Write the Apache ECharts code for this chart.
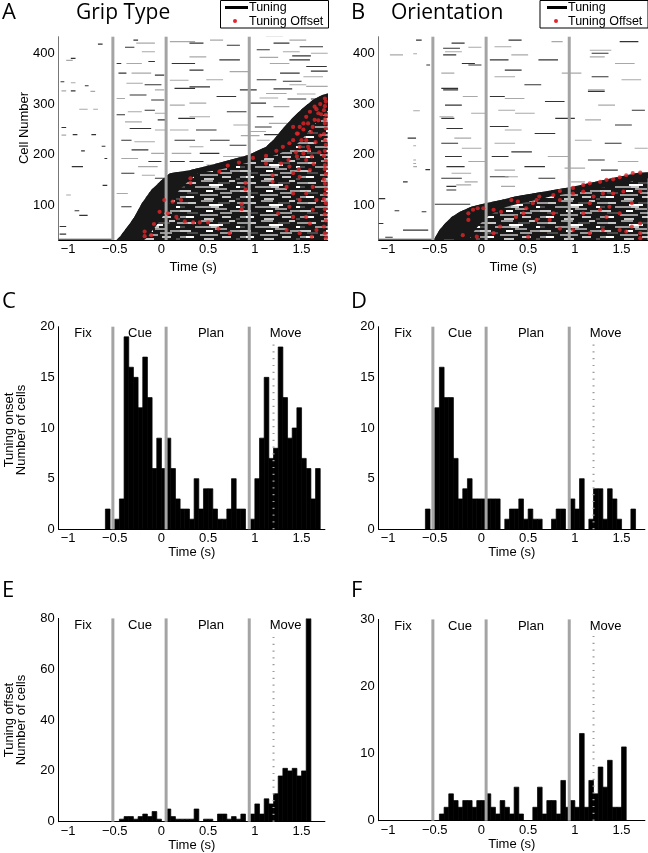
<!DOCTYPE html>
<html><head><meta charset="utf-8">
<script src="https://cdn.jsdelivr.net/npm/echarts@6/dist/echarts.min.js"></script>
<style>html,body{margin:0;padding:0;background:#fff}#c{width:648px;height:853px}</style>
</head><body><div id="c"></div>
<script>
// ================= DATA =================
const timeTicks = [-1, -0.5, 0, 0.5, 1, 1.5];
const cellTicks = [100, 200, 300, 400];
const onsetTicks = [0, 5, 10, 15, 20];
const offsetGripTicks = [0, 20, 40, 60, 80];
const offsetOriTicks = [0, 10, 20, 30];
const eventTimes = [-0.52, 0.05, 0.94];     // epoch boundaries (gray lines)
const moveOnsetTime = 1.2;                   // dotted line
const phaseNames = ['Fix', 'Cue', 'Plan', 'Move'];
const phaseLabelTimes = [-0.84, -0.23, 0.53, 1.33];

// histogram bins: 0.05 s, first bin starts at -0.6 s
const binWidth = 0.05;
const firstBin = -0.6;
const onsetGrip = [2,0,1,3,19,16,15,12,17,13,6,9,6,9,6,3,2,2,1,5,2,4,4,2,1,1,2,5,2,2,0,1,5,9,15,7,8,18,13,9,10,12,7,6,3,6];
const onsetOri  = [2,0,12,16,13,13,7,3,4,5,3,3,3,3,3,3,0,1,2,2,3,1,2,1,1,0,0,1,2,2,0,3,2,5,0,1,4,4,1,4,3,1,0,0,2];
const offsetGrip = [0,0,0,1,2,2,1,2,3,2,4,1,0,5,2,1,1,1,1,5,0,1,1,0,3,3,1,2,1,3,0,3,7,3,9,7,11,18,21,20,21,18,20,80];
const offsetOri  = [0,0,0,1,2,4,3,2,3,3,2,3,3,4,2,1,3,2,1,5,1,0,0,2,5,1,3,3,1,6,2,3,2,13,2,6,4,8,5,9,2,2,11];

// raster: tuning-onset boundary of sorted cells  [time (s), cell number]
const stairGrip = [[-0.48,33],[-0.44,40],[-0.40,50],[-0.35,62],[-0.29,78],[-0.21,105],[-0.11,131],[0.0,150],[0.09,164],[0.30,170],[0.59,183],[0.93,200],[1.12,216],[1.21,232],[1.30,252],[1.40,272],[1.50,290],[1.62,308],[1.72,318],[1.78,321]];
const stairOri = [[-0.51,33],[-0.45,52],[-0.39,65],[-0.32,78],[-0.23,88],[-0.11,98],[0.04,105],[0.21,111],[0.36,118],[0.61,126],[0.96,137],[1.32,151],[1.68,165],[1.78,166]];

// raster: tuning offsets (red dots)  [time, cell]
const offsetDotsGrip = [[0.71,179],[0.83,185],[0.98,194],[1.12,198],[1.23,208],[1.30,216],[1.37,223],[1.41,229],[1.46,242],[1.48,255],[1.52,262],[1.55,275],[1.59,285],[1.64,295],
[0.31,154],[0.31,145],[0.62,167],[0.90,145],[0.90,132],[0.03,111],[0.12,108],[0.21,111],[-0.02,88],[0.07,85],[0.16,78],[0.25,69],[0.34,67],[0.41,67],[0.50,67],[0.61,55],[0.73,46],[0.86,103],[0.86,93],[-0.08,64],[-0.18,49],[-0.18,40],[-0.11,42],
[1.12,183],[1.28,183],[1.37,177],[1.41,164],[1.48,157],[1.59,170],[1.19,160],[1.19,147],[1.34,137],[1.41,124],[1.55,124],[1.62,137],[1.66,111],[1.48,111],[1.37,98],[1.25,85],[1.41,78],[1.55,78],[1.62,92],[1.34,52],[1.48,46],[1.61,39],[1.66,52],[1.59,65],
[1.41,255],[1.45,242],[1.50,229],[1.57,216],[1.52,203],[1.45,197],[1.61,197],[1.55,229],[1.48,216],[1.62,255],[1.64,269],[1.68,282],
[1.70,300],[1.66,290],[1.71,280],[1.68,268],[1.57,262],[1.52,250],[1.60,245],[1.70,238],[1.65,225],[1.58,210],[1.69,205],[1.44,205],[1.36,190],[1.55,190],[1.63,182],[1.47,172],
[1.75,311],[1.76,305],[1.75,296],[1.74,288],[1.76,279],[1.75,270],[1.75,262],[1.76,252],[1.74,241],[1.75,229],[1.76,220],[1.75,208],[1.74,198],[1.76,189],[1.75,180],[1.75,172],[1.76,162],[1.74,152],[1.75,143],[1.76,132],[1.75,123],[1.74,113],[1.76,105],[1.75,93],[1.75,83],[1.76,71],[1.74,59],[1.75,46],[1.76,36]];
const offsetDotsOri = [[0.84,129],[0.98,135],[1.09,141],[1.16,144],[1.27,147],[1.34,151],[1.41,152],[1.48,156],[1.55,160],[1.62,164],[1.70,165],
[-0.20,42],[-0.14,72],[-0.14,85],[-0.09,92],[-0.04,95],[0.02,95],[0.13,92],[0.21,88],[0.32,111],[0.39,108],[0.45,85],[0.48,95],[0.55,105],[0.59,111],[0.62,118],[0.77,121],[0.84,111],[0.98,124],[1.09,128],[1.20,118],[1.30,124],[1.41,124],[1.52,128],[1.70,128],
[-0.05,39],[0.20,59],[0.37,78],[0.59,72],[0.73,72],[0.84,55],[0.98,52],[1.16,46],[1.30,52],[1.48,52],[1.61,59],[1.70,65],[1.70,46],[1.70,36],[0.13,46],[0.50,39],[0.77,85],[1.09,85],[1.27,92],[1.37,98],[1.48,85],[1.61,105],[1.16,105],[1.34,78],[1.55,49]];

// raster: sparse tuning periods above the onset boundary  [start, end, cell, level(1 strong / 2 weak)]
const dashesGrip = [
[-0.68,-0.63,418,1],[-1.02,-0.95,386,2],[-0.97,-0.92,390,1],[-1.08,-1.04,344,1],[-0.97,-0.92,342,2],[-0.82,-0.78,336,1],[-1.07,-1.02,326,2],[-0.97,-0.92,326,1],[-0.76,-0.71,325,2],[-0.88,-0.79,290,2],[-0.73,-0.68,290,2],[-1.07,-1.02,254,1],[-0.95,-0.90,240,1],[-1.07,-1.02,239,2],[-0.75,-0.70,240,1],[-0.86,-0.82,208,1],[-0.64,-0.60,217,1],[-0.61,-0.58,193,1],[-0.96,-0.84,177,1],[-0.63,-0.58,140,1],[-1.02,-0.97,121,2],[-0.93,-0.88,90,1],[-0.88,-0.79,81,1],[-1.09,-1.02,59,1],[-1.09,-1.02,44,1],[-1.1,-0.52,34,1],
[-0.30,-0.25,426,1],[-0.27,-0.07,420,2],[-0.39,-0.29,412,1],[-0.21,-0.07,403,2],[-0.48,-0.43,380,1],[-0.375,-0.21,380,2],[-0.14,-0.07,384,1],[-0.46,-0.375,361,1],[-0.32,-0.11,361,2],[-0.07,0.03,357,1],[-0.375,-0.20,341,2],[-0.18,0.0,338,1],[-0.07,0.03,328,2],[-0.34,-0.16,318,1],[-0.48,-0.39,311,2],[-0.11,0.03,308,1],[-0.36,-0.21,285,2],[-0.18,-0.07,288,1],[-0.07,0.05,282,2],[-0.48,-0.39,279,1],[-0.39,-0.21,265,2],[-0.04,0.05,269,1],[-0.34,-0.11,252,1],[-0.07,0.05,249,2],[-0.43,-0.32,229,1],[-0.29,-0.07,226,2],[-0.32,-0.14,210,1],[-0.11,0.03,203,2],[-0.43,-0.25,193,2],[-0.14,0.0,187,1],[-0.25,-0.04,177,2],[-0.43,-0.29,164,1],[-0.21,-0.07,160,2],[-0.07,0.03,154,1],[-0.48,-0.36,124,2],[-0.43,-0.32,98,1],
[0.09,0.36,423,2],[0.11,0.36,380,1],[0.09,0.29,347,2],[0.14,0.36,331,1],[0.09,0.25,298,2],[0.18,0.36,272,1],[0.09,0.29,249,2],[0.14,0.36,229,1],[0.11,0.32,203,2],[0.09,0.25,187,1],
[0.30,0.45,420,1],[0.52,0.66,426,2],[0.70,0.84,416,1],[1.12,1.30,433,2],[1.20,1.37,420,1],[1.37,1.55,426,2],[1.48,1.73,413,1],[1.30,1.48,403,2],[1.02,1.16,407,1],[0.30,0.48,393,2],[0.62,0.84,387,1],[1.37,1.59,387,1],[1.16,1.37,380,2],[1.55,1.77,374,1],[0.30,0.45,367,1],[0.73,0.95,364,2],[1.27,1.48,361,1],[1.52,1.73,354,2],[1.02,1.23,348,1],[0.48,0.66,348,2],[0.30,0.52,334,1],[1.37,1.55,338,2],[0.84,1.02,328,1],[1.12,1.34,321,2],[0.59,0.80,315,1],[0.30,0.48,302,2],[0.95,1.12,302,1],[1.20,1.37,295,2],[0.70,0.91,285,1],[0.30,0.52,275,2],[1.02,1.20,275,1],[0.77,0.95,259,2],[0.37,0.59,249,1],[0.95,1.12,246,2],[0.52,0.73,229,1],[0.30,0.45,216,2],[0.73,0.91,219,1],[1.02,1.16,229,2],[0.41,0.62,203,1],[0.66,0.87,197,2],[0.30,0.45,187,1],[0.48,0.66,180,2],
[1.40,1.60,395,1],[1.60,1.78,400,2],[1.05,1.25,392,2],[1.60,1.78,365,1],[1.30,1.50,345,1],[1.55,1.78,335,2],[1.20,1.40,330,1],[1.45,1.65,320,2],[1.60,1.78,310,1],[1.35,1.55,310,1],[1.05,1.25,312,2],[1.15,1.35,262,2],[1.0,1.18,255,1],[0.85,1.05,238,2],[1.1,1.25,240,1]];
const dashesOri = [
[-0.70,-0.64,426,1],[-0.98,-0.84,397,2],[-0.73,-0.69,399,2],[-0.59,-0.55,377,1],[-0.73,-0.66,287,2],[-0.79,-0.70,233,1],[-0.73,-0.70,218,2],[-0.73,-0.70,190,2],[-0.73,-0.70,183,2],[-0.73,-0.69,177,2],[-0.84,-0.79,147,1],[-0.60,-0.55,171,1],[-1.1,-1.03,114,1],[-0.93,-0.88,90,1],[-0.64,-0.59,88,1],[-1.1,-1.05,65,1],[-0.84,-0.57,52,1],[-1.03,-0.95,38,1],[-1.1,-0.52,34,1],
[-0.32,-0.18,420,1],[-0.41,-0.23,410,1],[-0.39,-0.21,403,2],[-0.41,-0.27,397,1],[-0.14,0.0,412,2],[-0.21,-0.07,380,1],[-0.43,-0.29,361,2],[-0.14,0.0,377,1],[-0.43,-0.25,331,1],[-0.41,-0.25,328,1],[-0.20,-0.04,315,2],[-0.39,-0.21,298,1],[-0.45,-0.30,275,2],[-0.43,-0.29,272,1],[-0.11,0.04,282,2],[-0.375,-0.20,252,1],[-0.29,-0.11,233,2],[-0.43,-0.25,223,1],[-0.21,0.0,213,2],[-0.39,-0.21,197,1],[-0.14,0.04,187,2],[-0.375,-0.18,177,1],[-0.32,-0.11,164,2],[-0.43,-0.21,154,1],[-0.18,-0.04,147,2],[-0.375,-0.27,138,1],[-0.375,-0.27,131,1],[-0.27,-0.11,141,2],[-0.50,-0.12,103,1],
[0.14,0.32,413,2],[0.09,0.29,387,1],[0.14,0.36,354,2],[0.09,0.25,315,1],[0.18,0.36,288,2],[0.09,0.29,256,1],[0.14,0.36,223,2],[0.11,0.29,197,1],[0.14,0.36,170,2],[0.09,0.29,157,1],[0.21,0.36,138,2],
[0.29,0.43,426,1],[0.75,0.87,423,2],[1.16,1.39,406,2],[1.18,1.36,400,1],[1.16,1.32,393,2],[1.48,1.68,423,1],[0.32,0.50,397,2],[0.61,0.82,387,1],[1.43,1.64,380,2],[0.25,0.43,367,1],[0.86,1.07,361,2],[1.18,1.36,354,1],[1.50,1.71,348,2],[0.46,0.64,338,1],[1.14,1.32,328,2],[1.14,1.32,325,1],[0.25,0.46,311,2],[0.68,0.89,305,1],[1.25,1.43,298,2],[1.61,1.75,288,1],[0.36,0.57,282,2],[0.79,1.0,272,1],[1.11,1.28,269,2],[1.43,1.61,259,1],[0.25,0.43,249,2],[0.57,0.79,242,1],[1.0,1.18,229,2],[1.32,1.50,223,1],[1.64,1.78,213,2],[0.32,0.54,206,1],[0.71,0.93,197,2],[1.14,1.32,190,1],[1.46,1.68,187,2],[0.46,0.68,177,1],[0.89,1.11,174,2],[1.28,1.46,170,1],[0.25,0.39,157,2],[0.61,0.79,154,1],[0.96,1.11,147,2]];

// ================= STYLE / RENDER =================
const FONT = '"Liberation Sans", Arial, Helvetica, sans-serif';
const TFONT = '"Open Sans", "Noto Sans", sans-serif';
const GRAY = '#a4a4a4';
const RED = '#e3262b';
const RASTER_X = [-1.1, 1.78], HIST_X = [-1.1, 1.75];
const CELL_Y = [32.5, 432.7];

// texture for the tuned (below-boundary) raster region
function makeTexture() {
  const rows = [
    'kkkkkkkkkkkkkkkkkkkkkggggggggggggkkkkkkkkkkkkkkkkllllllkkkkk',
    'ggggggggllllllllkkkkkkkkkkkkkkkkkkkkkkddddddddddddkkkkkkkggg',
    'kkkkkkkkkkkkkkkkkkkkkkkkkkkkkwwwwwwwwwwwwwwkkkkkkkkkkkkkkkkk',
    'dddddkkkkkkkkkkggggggggggggggggllllllllkkkkkkkkkkkkkkkkkwwww',
    'kkkkkkkkkkkkkkkkkkkkkkkkkkkkkkkkkkkggggggggggggkkkkkkkkkkkkk',
    'lllllllllllkkkkkkkkkkkkkkkwwwwwwwkkkkkkkkkkkkkkkkkgggggggggg',
    'kkkkkkkdddddddddddkkkkkkkkkkkkkkkkkkkkkkggggggggggggkkkkkkkk',
    'kkkkkkkkkkkkkkkkkkkkggggggggggggggggggkkkkkkkkkkkkkkkkkkkkkk',
    'ggggggwwwwwwwwkkkkkkkkkkkkkkkkkkkkkkkkkkkklllllllllkkkkkkkkk',
    'kkkkkkkkkkkkkkkkkkkkkkkkllllllllllkkkkkkkkkkkkkkkkkkkkkkdddd'];
  const col = {k:'#181818', d:'#4a4a4a', g:'#9a9a9a', l:'#c8c8c8', w:'#ffffff'};
  const W = 60, RH = 2;
  const cv = document.createElement('canvas');
  cv.width = W; cv.height = rows.length * RH;
  const ctx = cv.getContext('2d');
  rows.forEach((r, j) => {
    const s = r.padEnd(W, 'k').slice(0, W);
    for (let i = 0; i < W; i++) { ctx.fillStyle = col[s[i]]; ctx.fillRect(i, j * RH, 1, RH); }
  });
  return cv;
}
const texture = makeTexture();

const grids = [
  {left: 58.7, top: 36.7, width: 269.0, height: 203.3},   // A
  {left: 378.7, top: 36.7, width: 269.0, height: 203.3},  // B
  {left: 58.7, top: 326.7, width: 266.2, height: 202.6},  // C
  {left: 378.7, top: 326.7, width: 266.2, height: 202.6}, // D
  {left: 58.7, top: 618.4, width: 266.2, height: 203.3},  // E
  {left: 378.7, top: 619.4, width: 266.2, height: 201.3}  // F
];

const fmt = v => (v < 0 ? '\u2212' : '') + Math.abs(v);
function xAxisFor(i, range, gap) {
  return {gridIndex: i, type: 'value', min: range[0], max: range[1],
    axisLine: {show: true, onZero: false, lineStyle: {color: '#000', width: 1}},
    axisTick: {show: false}, splitLine: {show: false},
    axisLabel: {customValues: timeTicks, formatter: fmt, fontSize: 13, fontFamily: FONT, color: '#000', margin: 3},
    name: 'Time (s)', nameLocation: 'middle', nameGap: gap,
    nameTextStyle: {fontSize: 13, fontFamily: FONT, color: '#000'}};
}
function yAxisFor(i, range, ticks, lineColor) {
  return {gridIndex: i, type: 'value', min: range[0], max: range[1],
    axisLine: {show: true, onZero: false, lineStyle: {color: lineColor, width: 1}},
    axisTick: {show: false}, splitLine: {show: false},
    axisLabel: {customValues: ticks, fontSize: 13, fontFamily: FONT, color: '#000', margin: 4}};
}

function histBins(arr) { return arr.map((v, i) => [firstBin + i * binWidth, v]); }

function histSeries(idx, counts) {
  return {type: 'custom', xAxisIndex: idx, yAxisIndex: idx, clip: true, z: 2,
    data: histBins(counts),
    renderItem: (p, api) => {
      if (api.value(1) <= 0) return null;
      const a = api.coord([api.value(0), api.value(1)]);
      const b = api.coord([api.value(0) + binWidth, 0]);
      return {type: 'rect', shape: {x: a[0], y: a[1], width: b[0] - a[0], height: b[1] - a[1]},
        style: {fill: '#000', stroke: '#000', lineWidth: 0.7}};
    }};
}
function eventLineSeries(idx, yr) {
  return {type: 'custom', xAxisIndex: idx, yAxisIndex: idx, z: 6, silent: true,
    data: eventTimes.map(t => [t]),
    renderItem: (p, api) => {
      const a = api.coord([api.value(0), yr[0]]), b = api.coord([api.value(0), yr[1]]);
      return {type: 'line', shape: {x1: a[0], y1: a[1], x2: b[0], y2: b[1]},
        style: {stroke: GRAY, lineWidth: 3}};
    }};
}
function moveLineSeries(idx, yr) {
  return {type: 'custom', xAxisIndex: idx, yAxisIndex: idx, z: 7, silent: true,
    data: [[moveOnsetTime]],
    renderItem: (p, api) => {
      const a = api.coord([api.value(0), yr[0]]), b = api.coord([api.value(0), yr[0] + (yr[1] - yr[0]) * 0.92]);
      return {type: 'line', shape: {x1: a[0], y1: a[1], x2: b[0], y2: b[1]},
        style: {stroke: '#9a9a9a', lineWidth: 2, lineDash: [1.2, 5.6]}};
    }};
}
function phaseLabelSeries(idx, yTop) {
  return {type: 'custom', xAxisIndex: idx, yAxisIndex: idx, z: 8, silent: true,
    data: phaseLabelTimes.map((t, i) => [t, i]),
    renderItem: (p, api) => {
      const a = api.coord([api.value(0), yTop]);
      return {type: 'text', x: a[0], y: a[1] + 7,
        style: {text: phaseNames[api.value(1)], align: 'center', verticalAlign: 'middle',
          fontSize: 13, fontFamily: FONT, fill: '#000'}};
    }};
}

function rasterSeries(idx, dashes, stair, dots, band) {
  const out = [];
  out.push({type: 'custom', xAxisIndex: idx, yAxisIndex: idx, clip: true, z: 1, silent: true,
    data: dashes, encode: {x: [0, 1], y: 2},
    renderItem: (p, api) => {
      const a = api.coord([api.value(0), api.value(2)]), b = api.coord([api.value(1), api.value(2)]);
      return {type: 'line', shape: {x1: a[0], y1: a[1], x2: b[0], y2: b[1]},
        style: {stroke: api.value(3) === 1 ? '#333' : '#a8a8a8', lineWidth: 1.1}};
    }});
  // textured tuned region: below the onset boundary, to the right edge
  out.push({type: 'custom', xAxisIndex: idx, yAxisIndex: idx, clip: true, z: 2, silent: true,
    data: stair,
    renderItem: (p, api) => {
      if (p.dataIndex !== 0) return null;
      const pts = stair.map(d => api.coord(d));
      const last = stair[stair.length - 1], first = stair[0];
      pts.push(api.coord([RASTER_X[1], last[1]]));
      pts.push(api.coord([RASTER_X[1], CELL_Y[0]]));
      pts.push(api.coord([first[0], CELL_Y[0]]));
      return {type: 'polygon', shape: {points: pts}, style: {fill: {image: texture, repeat: 'repeat'}}};
    }});
  // solid black band right after each cell's tuning onset
  out.push({type: 'custom', xAxisIndex: idx, yAxisIndex: idx, clip: true, z: 3, silent: true,
    data: stair,
    renderItem: (p, api) => {
      if (p.dataIndex !== 0) return null;
      const pts = stair.map(d => api.coord(d));
      for (let i = stair.length - 1; i >= 0; i--) pts.push(api.coord([stair[i][0] + band, stair[i][1]]));
      return {type: 'polygon', shape: {points: pts}, style: {fill: '#181818'}};
    }});
  out.push(eventLineSeries(idx, CELL_Y));
  out.push({type: 'scatter', xAxisIndex: idx, yAxisIndex: idx, z: 9, silent: true,
    data: dots, symbol: 'circle', symbolSize: 4.2, itemStyle: {color: RED}});
  return out;
}

const series = [
  ...rasterSeries(0, dashesGrip, stairGrip, offsetDotsGrip, 0.3),
  ...rasterSeries(1, dashesOri, stairOri, offsetDotsOri, 0.38),
];
[[2, onsetGrip, [0, 20]], [3, onsetOri, [0, 20]], [4, offsetGrip, [0, 80]], [5, offsetOri, [0, 30]]].forEach(([i, arr, yr]) => {
  series.push(histSeries(i, arr), eventLineSeries(i, yr), moveLineSeries(i, yr), phaseLabelSeries(i, yr[1]));
});

const txt = (x, y, text, size, font, extra) => Object.assign({type: 'text', x, y,
  style: {text, fontSize: size, fontFamily: font, fill: '#000', align: 'left', verticalAlign: 'middle'}}, extra || {});
const vtxt = (x, y, text) => ({type: 'text', x, y, rotation: Math.PI / 2,
  style: {text, fontSize: 13, fontFamily: FONT, fill: '#000', align: 'center', verticalAlign: 'middle'}});
function legend(x0, lineX0, lineX1, dotX, textX) {
  return [
    {type: 'rect', shape: {x: x0, y: 0.5, width: 108, height: 27.5}, style: {fill: '#fff', stroke: '#000', lineWidth: 1}, z: 10},
    {type: 'line', shape: {x1: lineX0, y1: 7.5, x2: lineX1, y2: 7.5}, style: {stroke: '#000', lineWidth: 3}, z: 11},
    {type: 'circle', shape: {cx: dotX, cy: 21, r: 2}, style: {fill: RED}, z: 11},
    Object.assign(txt(textX, 8, 'Tuning', 12.5, FONT), {z: 11}),
    Object.assign(txt(textX, 21.5, 'Tuning Offset', 12.5, FONT), {z: 11})
  ];
}

const graphic = [
  txt(2, 13, 'A', 22, TFONT), txt(76, 13, 'Grip Type', 21, TFONT),
  txt(351, 13, 'B', 22, TFONT), txt(391, 13, 'Orientation', 21, TFONT),
  txt(2, 302, 'C', 22, TFONT), txt(351, 302, 'D', 22, TFONT),
  txt(2, 591, 'E', 22, TFONT), txt(351, 591, 'F', 22, TFONT),
  vtxt(24, 128, 'Cell Number'),
  vtxt(9, 430, 'Tuning onset'), vtxt(21.5, 430, 'Number of cells'),
  vtxt(9, 720, 'Tuning offset'), vtxt(21.5, 720, 'Number of cells'),
  ...legend(220.5, 225, 248, 235, 249),
  ...legend(540, 547, 567, 556, 568)
];

const chart = echarts.init(document.getElementById('c'), null, {renderer: 'canvas', width: 648, height: 853});
chart.setOption({
  animation: false,
  backgroundColor: '#fff',
  grid: grids.map(g => Object.assign({containLabel: false}, g)),
  xAxis: [xAxisFor(0, RASTER_X, 21), xAxisFor(1, RASTER_X, 21), xAxisFor(2, HIST_X, 13), xAxisFor(3, HIST_X, 13), xAxisFor(4, HIST_X, 13), xAxisFor(5, HIST_X, 13)],
  yAxis: [yAxisFor(0, CELL_Y, cellTicks, '#777'), yAxisFor(1, CELL_Y, cellTicks, '#777'),
    yAxisFor(2, [0, 20], onsetTicks, '#000'), yAxisFor(3, [0, 20], onsetTicks, '#000'),
    yAxisFor(4, [0, 80], offsetGripTicks, '#000'), yAxisFor(5, [0, 30], offsetOriTicks, '#000')],
  series,
  graphic
});
</script></body></html>
